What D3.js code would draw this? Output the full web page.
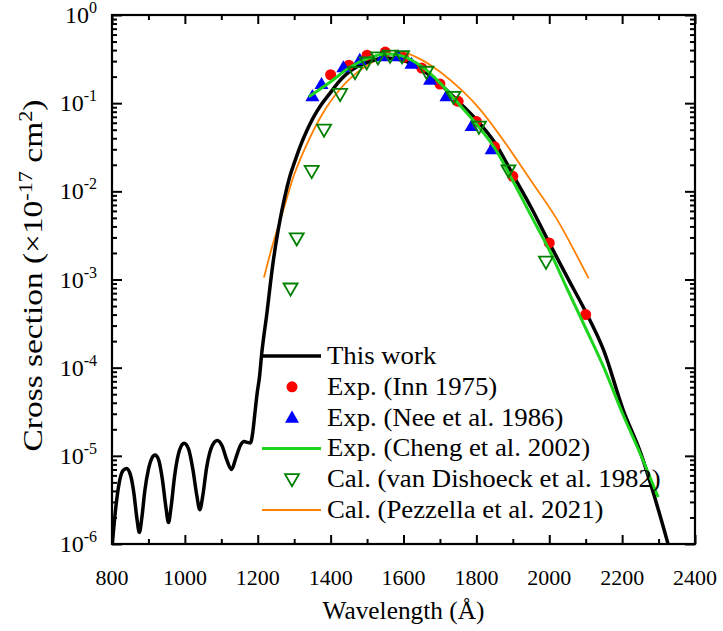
<!DOCTYPE html>
<html>
<head>
<meta charset="utf-8">
<script src="https://cdn.jsdelivr.net/npm/d3@7/dist/d3.min.js"></script>
<style>
body{margin:0;background:#fff;}
svg{display:block;}
svg text{font-family:'Liberation Serif','Times New Roman','Tinos','DejaVu Serif',serif;}
</style>
</head>
<body>
<div id="chart"></div>
<script>
// This work (black curve)
var workWl=[800,810,820,830,840,850,860,868,875,882,890,900,910,918,928,938,948,955,962,972,985,998,1010,1022,1033,1041,1049,1060,1075,1089,1102,1115,1128,1140,1152,1163,1172,1180,1186,1192,1198,1205,1211,1218,1225,1234,1243,1252,1261,1274,1288,1302,1316,1334,1352,1375,1398,1420,1444,1470,1500,1527,1554,1600,1650,1700,1750,1800,1850,1900,1950,2000,2050,2100,2150,2203,2250,2300,2326,2345];
var workCs=[9e-7,2.5e-6,5e-6,6.8e-6,7.2e-6,6.2e-6,3.8e-6,2.0e-6,1.35e-6,2.0e-6,4e-6,7e-6,9.5e-6,1.02e-5,9e-6,5.5e-6,2.6e-6,1.75e-6,2.6e-6,6e-6,1.15e-5,1.39e-5,1.2e-5,7e-6,3.5e-6,2.45e-6,3.5e-6,7.5e-6,1.3e-5,1.49e-5,1.3e-5,9e-6,7.0e-6,9.5e-6,1.3e-5,1.45e-5,1.42e-5,1.4e-5,1.8e-5,3.0e-5,5e-5,8e-5,1.46e-4,2.5e-4,4.1e-4,8.5e-4,1.66e-3,2.9e-3,4.7e-3,8.6e-3,0.0147,0.022,0.032,0.048,0.068,0.097,0.129,0.17,0.215,0.255,0.29,0.315,0.325,0.305,0.24,0.165,0.105,0.065,0.036,0.0155,6.6e-3,2.6e-3,1.05e-3,4.3e-4,1.55e-4,3.3e-5,1.1e-5,2.4e-6,1.0e-6,5e-7];

// Exp. (Inn 1975)
var innWl=[1400,1450,1500,1550,1600,1650,1700,1750,1800,1850,1900,2000,2100];
var innCs=[0.21,0.27,0.35,0.38,0.33,0.25,0.165,0.105,0.062,0.032,0.0148,2.6e-3,4.0e-4];

// Exp. (Nee et al. 1986)
var neeWl=[1350,1375,1435,1480,1544,1585,1622,1673,1718,1787,1842];
var neeCs=[0.12,0.165,0.255,0.31,0.34,0.34,0.28,0.185,0.12,0.055,0.03];

// Exp. (Cheng et al. 2002)
var chengWl=[1340,1400,1450,1500,1550,1600,1650,1700,1750,1800,1850,1900,1950,2000,2050,2100,2150,2200,2250,2299];
var chengCs=[0.118,0.175,0.25,0.32,0.36,0.34,0.26,0.17,0.10,0.058,0.031,0.0132,5.3e-3,2.16e-3,7.7e-4,2.8e-4,1.0e-4,3.1e-5,1.05e-5,3.4e-6];

// Cal. (van Dishoeck et al. 1982)
var dishWl=[1290,1307,1348,1382,1426,1467,1499,1530,1563,1596,1663,1737,1807,1888,1991];
var dishCs=[7.9e-4,2.93e-3,0.017,0.050,0.127,0.225,0.29,0.33,0.345,0.34,0.227,0.118,0.054,0.0173,1.59e-3];

// Cal. (Pezzella et al. 2021)
var pezWl=[1217,1240,1270,1300,1330,1371,1400,1450,1500,1550,1580,1610,1650,1700,1764,1810,1874,1950,2020,2108];
var pezCs=[1.05e-3,2.4e-3,6.1e-3,0.0155,0.031,0.068,0.105,0.185,0.27,0.345,0.37,0.365,0.31,0.227,0.135,0.085,0.038,0.0132,4.9e-3,1.03e-3];

var xMajor=[800,1000,1200,1400,1600,1800,2000,2200,2400];
var xMinor=[900,1100,1300,1500,1700,1900,2100,2300];
var yMajorExp=[0,-1,-2,-3,-4,-5,-6];

var legendLabels=['This work','Exp. (Inn 1975)','Exp. (Nee et al. 1986)','Exp. (Cheng et al. 2002)','Cal. (van Dishoeck et al. 1982)','Cal. (Pezzella et al. 2021)'];
var legendKinds=['line','circle','triangle','line','dtriangle','line'];
var legendColors=['#000000','#ff0000','#0000ff','#1ed41e','#008000','#ff8000'];
var legendWidths=[3.5,0,0,3,0,1.8];

var W=723,H=631;
var L=112,T=15,R=695,B=544;

var svg=d3.select('#chart').append('svg').attr('width',W).attr('height',H);

var x=d3.scaleLinear().domain([800,2400]).range([L,R]);
var y=d3.scaleLog().domain([1e-6,1]).range([B,T]);

svg.append('clipPath').attr('id','clip').append('rect')
	.attr('x',L).attr('y',T).attr('width',R-L).attr('height',B-T);

function zip(a,b){ return a.map(function(d,i){return [d,b[i]];}); }

var line=d3.line().x(function(d){return x(d[0]);}).y(function(d){return y(d[1]);})
	.curve(d3.curveMonotoneX);
var smooth=d3.line().x(function(d){return x(d[0]);}).y(function(d){return y(d[1]);})
	.curve(d3.curveCatmullRom.alpha(0.5));

var gPlot=svg.append('g').attr('clip-path','url(#clip)');

// orange
gPlot.append('path').attr('d',smooth(zip(pezWl,pezCs))).attr('fill','none')
	.attr('stroke','#ff8000').attr('stroke-width',1.8);
// black
gPlot.append('path').attr('d',line(zip(workWl,workCs))).attr('fill','none')
	.attr('stroke','#000').attr('stroke-width',3.5).attr('stroke-linejoin','round');

// markers
var circ=d3.symbol().type(d3.symbolCircle).size(95);
var tri=d3.symbol().type(d3.symbolTriangle).size(85);

gPlot.selectAll('.inn').data(zip(innWl,innCs)).enter().append('path')
	.attr('d',circ).attr('fill','#ff0000')
	.attr('transform',function(d){return 'translate('+x(d[0])+','+y(d[1])+')';});
gPlot.selectAll('.nee').data(zip(neeWl,neeCs)).enter().append('path')
	.attr('d',tri).attr('fill','#0000ff')
	.attr('transform',function(d){return 'translate('+x(d[0])+','+(y(d[1])+1)+')';});

// green line
gPlot.append('path').attr('d',smooth(zip(chengWl,chengCs))).attr('fill','none')
	.attr('stroke','#1ed41e').attr('stroke-width',3);

gPlot.selectAll('.dish').data(zip(dishWl,dishCs)).enter().append('path')
	.attr('d',tri).attr('fill','none').attr('stroke','#008000').attr('stroke-width',1.8)
	.attr('transform',function(d){return 'translate('+x(d[0])+','+(y(d[1])-1)+') rotate(180)';});

// axes, ticks inward
function tickAxis(axisFn,scale,vals,size,tr){
	var a=axisFn(scale).tickValues(vals).tickSize(size).tickSizeOuter(0).tickFormat('');
	var g=svg.append('g').attr('transform',tr).call(a);
	g.select('.domain').remove();
	g.selectAll('line').attr('stroke','#000').attr('stroke-width',2);
	return g;
}
var yMinor=[];
yMajorExp.forEach(function(e){ if(e<0){ for(var k=2;k<=9;k++) yMinor.push(k*Math.pow(10,e)); } });
var yMajor=yMajorExp.map(function(e){return Math.pow(10,e);});

tickAxis(d3.axisBottom,x,xMajor,-9,'translate(0,'+B+')');
tickAxis(d3.axisBottom,x,xMinor,-5,'translate(0,'+B+')');
tickAxis(d3.axisTop,x,xMajor,-9,'translate(0,'+T+')');
tickAxis(d3.axisTop,x,xMinor,-5,'translate(0,'+T+')');
tickAxis(d3.axisLeft,y,yMajor,-10,'translate('+L+',0)');
tickAxis(d3.axisLeft,y,yMinor,-5,'translate('+L+',0)');
tickAxis(d3.axisRight,y,yMajor,-10,'translate('+R+',0)');
tickAxis(d3.axisRight,y,yMinor,-5,'translate('+R+',0)');

svg.append('rect').attr('x',L).attr('y',T).attr('width',R-L).attr('height',B-T)
	.attr('fill','none').attr('stroke','#000').attr('stroke-width',2.2);

// stretch factor so a text node reaches a target length
function fitLen(sel,target){
	var len=sel.node().getComputedTextLength();
	return len>0 ? target/len : 1;
}

// x tick labels
svg.append('g').selectAll('text').data(xMajor).enter().append('text')
	.attr('x',function(d){return x(d);}).attr('y',B+41)
	.attr('text-anchor','middle').attr('font-size',22).text(function(d){return d;});

// y tick labels
var yl=svg.append('g').selectAll('text').data(yMajorExp).enter().append('text')
	.attr('x',97).attr('y',function(d){return y(Math.pow(10,d))+8;})
	.attr('text-anchor','end').attr('font-size',24);
yl.append('tspan').text('10');
yl.append('tspan').attr('dy',-10).attr('font-size',16).text(function(d){return d;});

// axis titles
var xt=svg.append('text').attr('x',(L+R)/2).attr('y',619).attr('text-anchor','middle')
	.attr('font-size',25).text('Wavelength (Å)');
var sx=fitLen(xt,162);
xt.attr('transform','translate('+((L+R)/2)+',0) scale('+sx+',1) translate('+(-(L+R)/2)+',0)');

var yt=svg.append('text').attr('text-anchor','middle').attr('font-size',27);
yt.append('tspan').text('Cross section (×10');
yt.append('tspan').attr('dy',-10).attr('font-size',18).text('-17');
yt.append('tspan').attr('dy',10).text(' cm');
yt.append('tspan').attr('dy',-10).attr('font-size',18).text('2');
yt.append('tspan').attr('dy',10).text(')');
var sy=fitLen(yt,352);
yt.attr('transform','translate(42,'+((T+B)/2-4)+') rotate(-90) scale('+sy+',1)');

// legend
var lg=svg.append('g');
var legTexts=[];
legendLabels.forEach(function(lab,i){
	var cy=356+i*30.8;
	if(legendKinds[i]=='line'){
		lg.append('line').attr('x1',262).attr('x2',321).attr('y1',cy).attr('y2',cy)
			.attr('stroke',legendColors[i]).attr('stroke-width',legendWidths[i]);
	}else if(legendKinds[i]=='circle'){
		lg.append('path').attr('d',circ).attr('fill',legendColors[i])
			.attr('transform','translate(292,'+cy+')');
	}else if(legendKinds[i]=='triangle'){
		lg.append('path').attr('d',tri).attr('fill',legendColors[i])
			.attr('transform','translate(292,'+(cy+1)+')');
	}else{
		lg.append('path').attr('d',tri).attr('fill','none').attr('stroke',legendColors[i])
			.attr('stroke-width',1.8)
			.attr('transform','translate(292,'+(cy-1)+') rotate(180)');
	}
	legTexts.push(lg.append('text').attr('x',327).attr('y',cy+8).attr('font-size',25).text(lab));
});
var sl=fitLen(legTexts[4],334);
legTexts.forEach(function(t){
	t.attr('transform','translate(327,0) scale('+sl+',1) translate(-327,0)');
});
</script>
</body>
</html>
